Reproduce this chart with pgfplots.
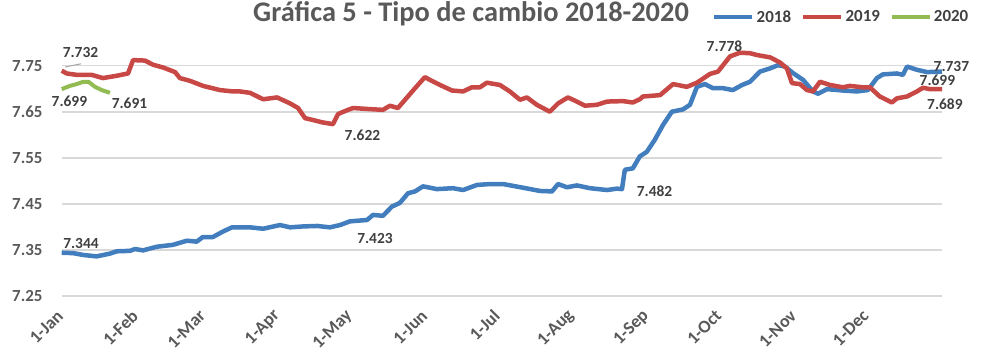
\documentclass[border=0pt]{standalone}
\usepackage{fontspec}
\setmainfont{Carlito}
\usepackage{pgfplots}
\pgfplotsset{compat=1.18}
\definecolor{cblue}{RGB}{66,126,190}
\definecolor{cred}{RGB}{200,72,70}
\definecolor{cgreen}{RGB}{146,188,82}
\definecolor{gridgray}{RGB}{217,217,217}
\definecolor{tgray}{RGB}{89,89,89}
\definecolor{dgray}{RGB}{64,64,64}
\begin{document}
\begin{tikzpicture}
\useasboundingbox (0,0) rectangle (982bp,354bp);
\begin{axis}[
  at={(61.7bp,58bp)}, anchor=south west,
  scale only axis, width=880.3bp, height=253.4bp,
  xmin=0, xmax=365, ymin=7.25, ymax=7.80,
  ytick={7.25,7.35,7.45,7.55,7.65,7.75},
  yticklabel style={/pgf/number format/fixed, /pgf/number format/precision=2, /pgf/number format/fixed zerofill},
  /pgf/number format/assume math mode=true,
  xtick={0,31,59,90,120,151,181,212,243,273,304,334},
  xticklabels={1-Jan,1-Feb,1-Mar,1-Apr,1-May,1-Jun,1-Jul,1-Aug,1-Sep,1-Oct,1-Nov,1-Dec},
  xticklabel style={anchor=east, inner sep=0pt, xshift=-1.5bp, yshift=-17bp, rotate=45, font=\fontsize{18}{18}\selectfont\bfseries, text=tgray},
  yticklabel style={anchor=east, inner sep=0pt, xshift=-19bp, font=\fontsize{17}{17}\selectfont\bfseries, text=tgray},
  major tick length=0pt, tick style={draw=none},
  axis line style={draw=none},
  ymajorgrids, grid style={gridgray, line width=1.6bp},
  clip=false,
  legend style={draw=none, fill=none, at={(0.739,1.101)}, anchor=west, legend columns=3, inner sep=0pt, outer sep=0pt,
    font=\fontsize{17}{17}\selectfont\bfseries, text=dgray,
    /tikz/every even column/.append style={column sep=8bp},
    nodes={inner sep=2bp}},
  legend image code/.code={\draw[#1] (0bp,0bp) -- (38bp,0bp);},
]
\addplot[cblue, line width=4.5bp, line join=round] coordinates {
(0,7.344)(4.8,7.343)(9.0,7.339)(14.5,7.336)(20.0,7.342)(22.8,7.347)(28.3,7.348)(30.4,7.352)(33.7,7.349)(39.5,7.357)(46.1,7.361)(51.9,7.370)(56.0,7.368)(58.5,7.378)(62.7,7.378)(66.9,7.390)(70.6,7.399)(78.1,7.399)(83.5,7.396)(90.5,7.404)(94.7,7.399)(100.1,7.401)(105.9,7.402)(111.2,7.399)(115.4,7.404)(119.5,7.412)(126.6,7.415)(129.1,7.426)(133.2,7.424)(136.9,7.444)(140.2,7.452)(143.6,7.473)(146.5,7.477)(149.8,7.488)(155.6,7.482)(162.2,7.484)(166.4,7.480)(172.2,7.491)(177.6,7.493)(183.0,7.493)(191.3,7.485)(198.3,7.478)(203.3,7.477)(205.8,7.493)(209.5,7.486)(213.6,7.490)(219.0,7.484)(226.1,7.480)(230.2,7.483)(232.3,7.482)(233.5,7.524)(236.8,7.527)(239.7,7.553)(242.6,7.563)(245.9,7.589)(249.3,7.621)(253.0,7.650)(257.6,7.655)(260.5,7.665)(263.4,7.704)(266.7,7.710)(270.0,7.701)(274.2,7.701)(278.3,7.697)(282.1,7.708)(285.4,7.715)(289.5,7.737)(293.7,7.744)(297.0,7.751)(299.9,7.748)(303.2,7.734)(307.4,7.719)(311.5,7.694)(313.6,7.689)(317.3,7.699)(323.9,7.696)(329.7,7.694)(334.3,7.697)(338.0,7.723)(340.5,7.731)(346.3,7.733)(348.8,7.730)(350.5,7.748)(354.6,7.741)(358.8,7.736)(365,7.737)
};
\addlegendentry{2018}
\addplot[cred, line width=4.5bp, line join=round] coordinates {
(0,7.739)(2.1,7.733)(6.2,7.730)(12.4,7.730)(17.1,7.723)(22.8,7.728)(27.5,7.733)(29.6,7.762)(34.5,7.761)(37.9,7.752)(42.0,7.746)(47.0,7.736)(49.0,7.723)(53.2,7.717)(58.6,7.706)(65.6,7.697)(71.0,7.694)(73.9,7.694)(78.1,7.691)(83.5,7.677)(89.3,7.681)(94.7,7.668)(98.0,7.658)(100.9,7.636)(104.2,7.632)(107.9,7.627)(112.5,7.623)(114.6,7.645)(118.7,7.654)(120.8,7.658)(126.6,7.656)(133.2,7.654)(136.1,7.663)(139.4,7.658)(143.2,7.681)(146.5,7.701)(150.6,7.725)(152.7,7.719)(156.9,7.708)(161.8,7.696)(166.4,7.694)(170.1,7.703)(173.4,7.703)(176.3,7.713)(181.7,7.708)(185.8,7.694)(190.0,7.676)(192.9,7.681)(197.0,7.665)(202.4,7.650)(205.8,7.668)(209.9,7.681)(213.6,7.672)(217.0,7.663)(221.9,7.665)(226.1,7.672)(232.7,7.673)(236.8,7.670)(239.7,7.677)(241.0,7.683)(248.1,7.686)(253.5,7.710)(259.2,7.704)(263.4,7.713)(268.8,7.732)(272.1,7.737)(277.1,7.770)(281.2,7.778)(285.4,7.777)(288.3,7.773)(293.7,7.768)(297.8,7.757)(300.7,7.744)(302.8,7.712)(306.1,7.710)(309.0,7.697)(311.5,7.694)(314.4,7.715)(318.6,7.708)(323.9,7.703)(326.8,7.706)(332.2,7.703)(335.1,7.703)(339.2,7.683)(344.2,7.670)(346.3,7.679)(350.5,7.683)(354.6,7.694)(357.1,7.702)(360.0,7.699)(365,7.699)
};
\addlegendentry{2019}
\addplot[cgreen, line width=4bp, line join=round] coordinates {
(0,7.699)(3.4,7.706)(6.2,7.710)(9.0,7.715)(11.1,7.715)(13.8,7.704)(16.6,7.697)(20.0,7.691)
};
\addlegendentry{2020}
\node[anchor=base, inner sep=0pt, font=\fontsize{28.5}{28.5}\selectfont\bfseries, text=tgray] at (axis description cs:0.465,1.0825) {Gráfica 5 - Tipo de cambio 2018-2020};
\draw[gray!70, line width=1bp] (axis cs:1.4,7.747) -- (axis cs:8.0,7.754);
\begin{scope}[every node/.style={font=\fontsize{15.5}{15.5}\selectfont\bfseries, text=dgray, inner sep=0pt}]
\node at (axis cs:8.0,7.365) {7.344};
\node at (axis cs:7.8,7.778) {7.732};
\node at (axis cs:3.2,7.673) {7.699};
\node at (axis cs:28.1,7.669) {7.691};
\node at (axis cs:124.7,7.598) {7.622};
\node at (axis cs:129.9,7.374) {7.423};
\node at (axis cs:245.8,7.478) {7.482};
\node at (axis cs:274.8,7.793) {7.778};
\node at (axis cs:368.9,7.749) {7.737};
\node at (axis cs:363.1,7.719) {7.699};
\node at (axis cs:366.2,7.667) {7.689};
\end{scope}
\end{axis}
\end{tikzpicture}
\end{document}
